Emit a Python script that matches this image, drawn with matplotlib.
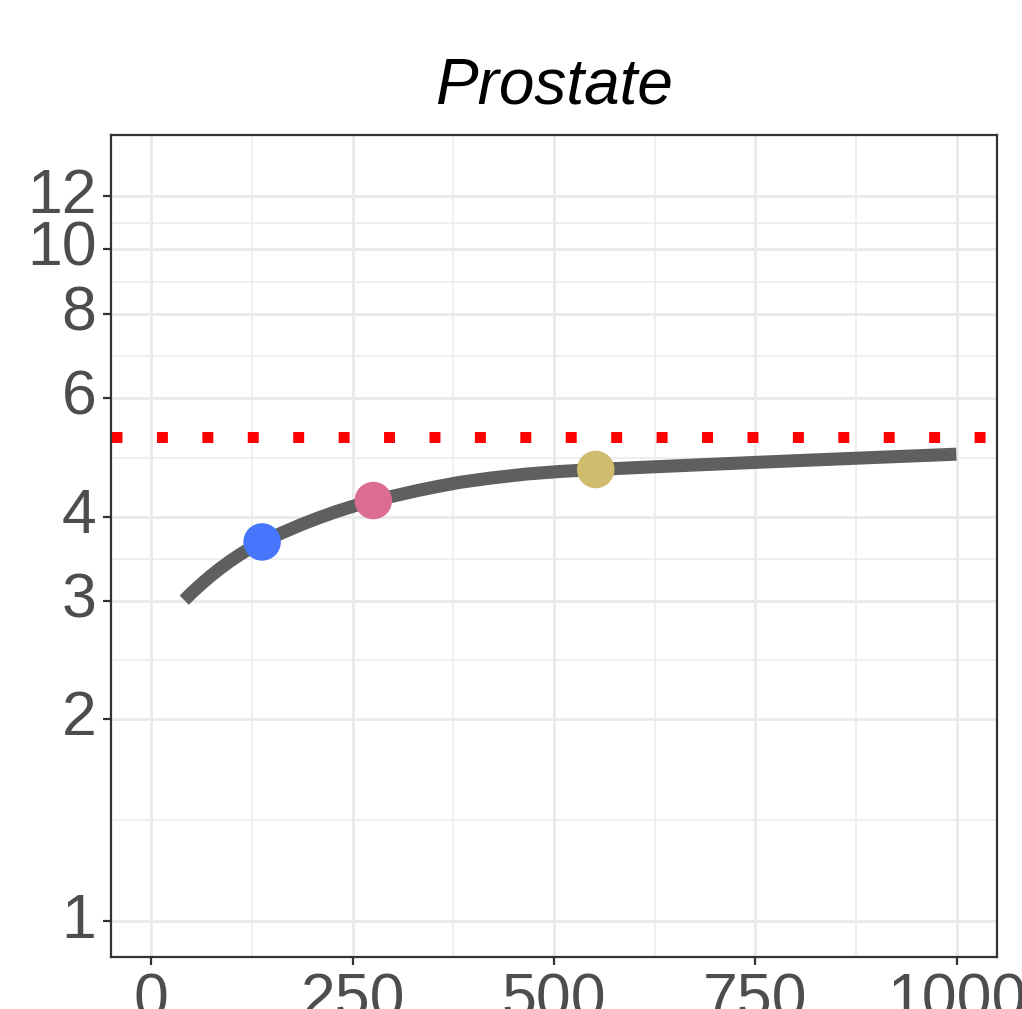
import matplotlib
matplotlib.use("Agg")
import matplotlib.pyplot as plt
from matplotlib.ticker import FixedLocator, NullFormatter

plt.rcParams['font.family'] = ['Liberation Sans', 'DejaVu Sans']

# Data
curve_x = [40.9, 50.8, 60.8, 73.2, 85.6, 98.0, 110.4, 122.8, 137.6, 162.5, 187.3,
           205.9, 230.7, 255.5, 275.3, 300.1, 331.1, 356.0, 383.3, 420.4, 466.3,
           507.2, 551.8, 618.8, 680.8, 786.2, 891.6, 999.5]
curve_y = [3.004, 3.086, 3.165, 3.260, 3.350, 3.435, 3.515, 3.588, 3.668, 3.785, 3.897,
           3.976, 4.074, 4.163, 4.227, 4.291, 4.376, 4.437, 4.500, 4.564, 4.630,
           4.670, 4.702, 4.742, 4.778, 4.838, 4.896, 4.955]
point_x = [137.6, 275.7, 551.8]
point_y = [3.668, 4.227, 4.702]
point_colors = ["#4576FC", "#DB6D90", "#CFBC6D"]
ref_level = 5.26
title = "Prostate"
x_ticks = [0, 250, 500, 750, 1000]
x_tick_labels = ["0", "250", "500", "750", "1000"]
x_minor = [125, 375, 625, 875]
y_ticks = [1, 2, 3, 4, 6, 8, 10, 12]
y_tick_labels = ["1", "2", "3", "4", "6", "8", "10", "12"]
y_minor = [1.414, 2.449, 3.464, 4.899, 6.928, 8.944, 10.954]

W, H = 1022, 1009
fig = plt.figure(figsize=(W / 100, H / 100), dpi=100)
ax = fig.add_axes([111 / W, 1 - 957 / H, (997 - 111) / W, (957 - 135) / H])

ax.set_yscale('log')
ax.set_xlim(-50, 1050)
ax.set_ylim(0.884, 14.8)

ax.xaxis.set_major_locator(FixedLocator(x_ticks))
ax.set_xticklabels(x_tick_labels)
ax.xaxis.set_minor_locator(FixedLocator(x_minor))
ax.yaxis.set_major_locator(FixedLocator(y_ticks))
ax.set_yticklabels(y_tick_labels)
ax.yaxis.set_minor_locator(FixedLocator(y_minor))
ax.yaxis.set_minor_formatter(NullFormatter())
ax.xaxis.set_minor_formatter(NullFormatter())

ax.grid(which='major', color='#EBEBEB', linewidth=2.1, zorder=0)
ax.grid(which='minor', color='#EBEBEB', linewidth=1.1, zorder=0)
ax.set_axisbelow(True)

ax.tick_params(which='major', length=5.5, width=1.6, color='#333333',
               labelsize=45, labelcolor='#4D4D4D', pad=5)
ax.tick_params(which='minor', length=0)
for lbl in ax.get_yticklabels():
    lbl.set_verticalalignment('center')
for s in ax.spines.values():
    s.set_color('#333333')
    s.set_linewidth(1.6)

ax.axhline(ref_level, color='#FF0000', linewidth=7.9, linestyle=(0, (1, 3.14)),
           dash_capstyle='butt', zorder=2)
ax.plot(curve_x, curve_y, color='#5F5F5F', linewidth=9.4, solid_capstyle='butt',
        solid_joinstyle='round', zorder=3)
ax.scatter(point_x, point_y, s=27 ** 2, c=point_colors, zorder=4, linewidths=0)

fig.text(554 / W, 1 - 104 / H, title, ha='center', va='baseline',
         fontsize=46, style='italic', color='black')

fig.savefig("out.png", dpi=100)
